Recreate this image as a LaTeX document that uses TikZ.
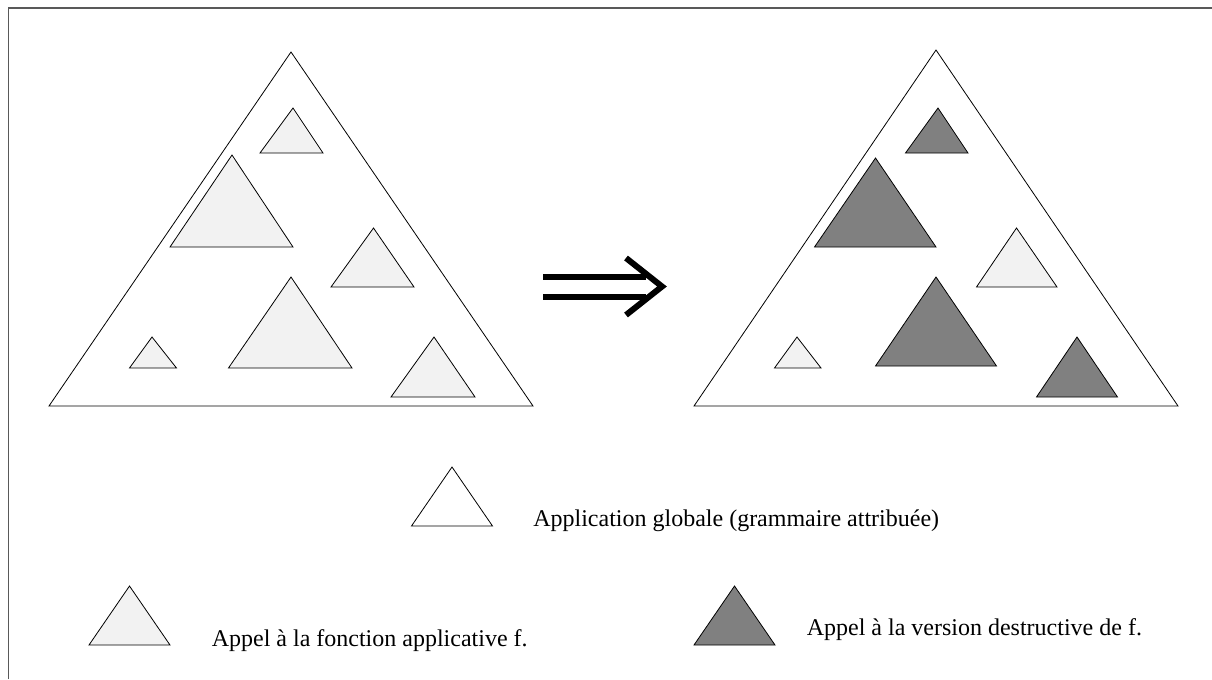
\documentclass[tikz,border=0pt]{standalone}
\usepackage{fontspec}
\setmainfont{Liberation Serif}
\usetikzlibrary{calc}

\begin{document}
\begin{tikzpicture}[x=0.75pt,y=-0.75pt,
    outline/.style={draw,line width=0.6pt,line join=miter},
    applic/.style={outline,fill=black!5},
    destruct/.style={outline,fill=black!50},
    label/.style={anchor=base west,inner sep=0pt,font=\fontsize{18}{21}\selectfont}]
    \useasboundingbox (0,0) rectangle (1212,679);

    % Frame
    \draw[line width=0.9pt,black!65] (8.5,679) -- (8.5,8) -- (1212,8);

    % Left tree
    \draw[outline] (291,52) -- (49,406) -- (533,406) -- cycle;
    \draw[applic] (293,108) -- (260,153) -- (323,153) -- cycle;
    \draw[applic] (232,155) -- (170,247) -- (293,247) -- cycle;
    \draw[applic] (373.5,228) -- (331,287) -- (414,287) -- cycle;
    \draw[applic] (291,277) -- (228.5,368) -- (352,368) -- cycle;
    \draw[applic] (152,337) -- (129.5,368) -- (176.5,368) -- cycle;
    \draw[applic] (434,337) -- (391,397) -- (475,397) -- cycle;

    % Transformation arrow
    \draw[line width=4.5pt] (543,276.5) -- (646,276.5);
    \draw[line width=4.5pt] (543,296.5) -- (646,296.5);
    \draw[line width=4.5pt,line join=miter] (626,258) -- (662,286.5) -- (626,315);

    % Right tree
    \draw[outline] (936,50) -- (694,406) -- (1178,406) -- cycle;
    \draw[destruct] (938,108) -- (905.5,153) -- (968,153) -- cycle;
    \draw[destruct] (875.5,158) -- (814.5,247) -- (936,247) -- cycle;
    \draw[applic] (1016.5,228) -- (976.5,287) -- (1057,287) -- cycle;
    \draw[destruct] (936,277) -- (875.5,366) -- (996.5,366) -- cycle;
    \draw[applic] (797,337) -- (774.5,368) -- (821,368) -- cycle;
    \draw[destruct] (1077,337) -- (1036.5,397) -- (1117.5,397) -- cycle;

    % Legend
    \draw[outline] (452,467) -- (411.5,526) -- (492.5,526) -- cycle;
    \node[label] (global) at (533,526) {Application globale (grammaire attribuée)};

    \draw[applic] (129.5,586) -- (89,645) -- (170,645) -- cycle;
    \node[label] (applicf) at (211.5,646.5) {Appel à la fonction applicative f.};

    \draw[destruct] (734.5,586) -- (694,645) -- (775,645) -- cycle;
    \node[label] (destructf) at (806.5,635) {Appel à la version destructive de f.};

\end{tikzpicture}
\end{document}
